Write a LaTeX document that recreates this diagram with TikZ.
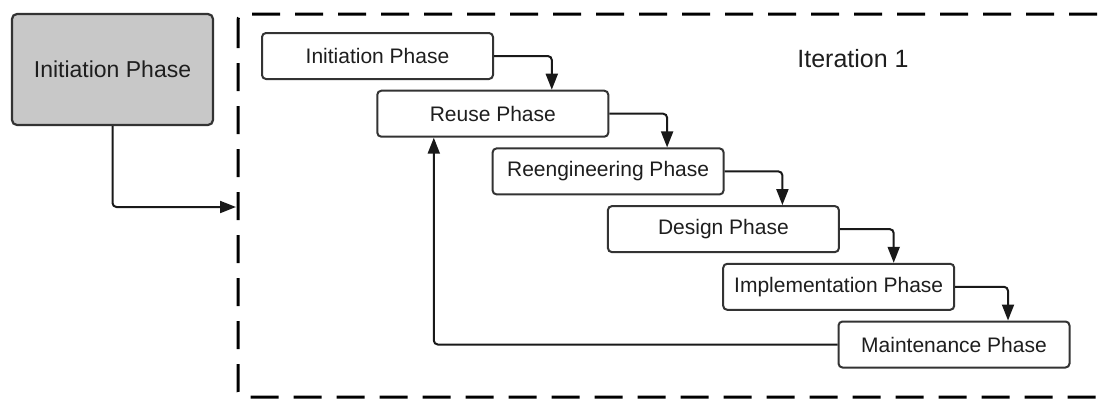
\documentclass[tikz,border=0pt]{standalone}
\usepackage{fontspec}
\setmainfont{Liberation Sans}
\usetikzlibrary{arrows.meta}
\definecolor{boxline}{HTML}{333333}
\definecolor{grayfill}{HTML}{C8C8C8}
\definecolor{txt}{HTML}{1E1E1E}
\tikzset{
  phasebox/.style={draw=boxline, line width=2pt, rounded corners=4pt, fill=white,
    minimum width=231pt, minimum height=46pt, inner sep=0pt, text=txt,
    font=\fontsize{21pt}{24pt}\selectfont},
  startbox/.style={draw=boxline, line width=2.2pt, rounded corners=5pt, fill=grayfill,
    minimum width=201pt, minimum height=111pt, inner sep=0pt, text=txt,
    font=\fontsize{23pt}{26pt}\selectfont},
  flow/.style={draw=black!90, line width=2pt, rounded corners=4pt,
    -{Triangle[length=16pt,width=12pt]}},
  frame/.style={draw=black, line width=3pt, dash pattern=on 28pt off 15pt, rounded corners=6pt}
}
\begin{document}
\begin{tikzpicture}[x=1pt,y=-1pt]
\useasboundingbox (0,0) rectangle (1099,400);
\clip (0,0) rectangle (1099,400);
\draw[frame] (238,14) rectangle (1130,397);
\coordinate (entry) at (236,207);
\node[startbox] (start) at (112.5,69.5) {Initiation Phase};
\node[text=txt, font=\fontsize{25pt}{28pt}\selectfont] (iter) at (853,59) {Iteration 1};
\node[phasebox] (p1) at (377.5,56) {Initiation Phase};
\node[phasebox] (p2) at (492.8,113.7) {Reuse Phase};
\node[phasebox] (p3) at (608.1,171.4) {Reengineering Phase};
\node[phasebox] (p4) at (723.4,229.1) {Design Phase};
\node[phasebox] (p5) at (838.7,286.8) {Implementation Phase};
\node[phasebox] (p6) at (954,344.5) {Maintenance Phase};
\draw[flow] (start.south) |- (entry);
\draw[flow] (p1.east) -| ([xshift=59pt]p2.north);
\draw[flow] (p2.east) -| ([xshift=59pt]p3.north);
\draw[flow] (p3.east) -| ([xshift=59pt]p4.north);
\draw[flow] (p4.east) -| ([xshift=55pt]p5.north);
\draw[flow] (p5.east) -| ([xshift=54pt]p6.north);
\draw[flow] (p6.west) -| ([xshift=-59pt]p2.south);
\end{tikzpicture}
\end{document}
